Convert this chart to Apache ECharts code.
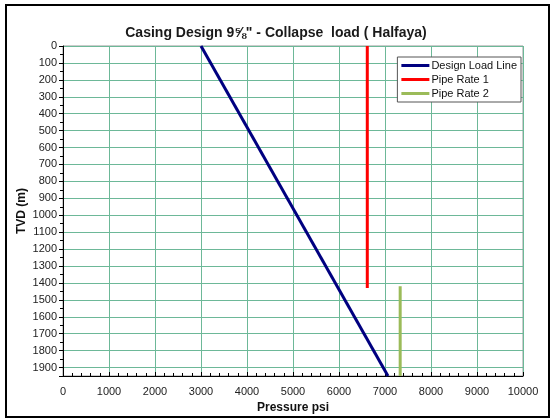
<!DOCTYPE html>
<html>
<head>
<meta charset="utf-8">
<script src="https://cdn.jsdelivr.net/npm/echarts@6/dist/echarts.min.js"></script>
<style>
html,body{margin:0;padding:0;background:#fff;}
#c{width:552px;height:420px;}
</style>
</head>
<body>
<div id="c"></div>
<script>
// Data
const designDepth = [0, 1950];
const designPressure = [3000, 7065];
const pipe1Depth = [0, 1430];
const pipe1Pressure = [6615, 6615];
const pipe2Depth = [1420, 1950];
const pipe2Pressure = [7330, 7330];
const seriesNames = ['Design Load Line', 'Pipe Rate 1', 'Pipe Rate 2'];
const titleText = 'Casing Design 9\u215D" - Collapse  load ( Halfaya)';
const xAxisTitle = 'Pressure psi';
const yAxisTitle = 'TVD (m)';

function pairs(xs, ys) { return xs.map((x, i) => [x, ys[i]]); }

const chart = echarts.init(document.getElementById('c'), null, {renderer: 'canvas'});
const font = 'Arial, "Liberation Sans", sans-serif';
chart.setOption({
  backgroundColor: '#fff',
  animation: false,
  title: {
    text: titleText,
    left: 271, top: 21, textAlign: 'center',
    textStyle: {fontFamily: font, fontSize: 14, fontWeight: 'bold', color: '#1a1a1a'}
  },
  graphic: [{
    type: 'rect', shape: {x: 6, y: 5, width: 543, height: 412},
    style: {fill: null, stroke: '#000', lineWidth: 2}, silent: true
  }, {
    type: 'text', x: 22, y: 211, rotation: Math.PI / 2, silent: true,
    style: {text: yAxisTitle, fontFamily: font, fontSize: 12, fontWeight: 'bold', fill: '#111',
      align: 'center', verticalAlign: 'middle'}
  }],
  legend: {
    orient: 'vertical', right: 31, top: 57,
    backgroundColor: '#fff', borderColor: '#555', borderWidth: 1,
    padding: [3, 4, 3, 4], itemGap: 3, itemWidth: 28, itemHeight: 11,
    icon: 'path://M0,0 L28,0 L28,3 L0,3 Z',
    textStyle: {fontFamily: font, fontSize: 11, color: '#111', padding: [0, 0, 0, -3]},
    data: seriesNames
  },
  grid: {left: 63, right: 29, top: 46, bottom: 44, show: true, borderColor: '#999', borderWidth: 1},
  xAxis: {
    type: 'value', min: 0, max: 10000, interval: 1000, position: 'bottom',
    name: xAxisTitle, nameLocation: 'middle', nameGap: 25,
    nameTextStyle: {fontFamily: font, fontSize: 12, fontWeight: 'bold', color: '#111'},
    axisLine: {show: true, onZero: false, lineStyle: {color: '#000', width: 1}},
    axisTick: {show: true, inside: true, length: 4, lineStyle: {color: '#000'}},
    minorTick: {show: true, splitNumber: 5, length: 3, lineStyle: {color: '#000'}},
    axisLabel: {fontFamily: font, fontSize: 11, color: '#222', margin: 10, formatter: v => String(v)},
    splitLine: {show: true, lineStyle: {color: '#6db898', width: 1}}
  },
  yAxis: {
    type: 'value', inverse: true, min: 0, max: 1950, interval: 100, position: 'left',
    axisLine: {show: true, onZero: false, lineStyle: {color: '#000', width: 1}},
    axisTick: {show: true, inside: false, length: 4, lineStyle: {color: '#000'}},
    minorTick: {show: true, splitNumber: 2, length: 3, lineStyle: {color: '#000'}},
    axisLabel: {fontFamily: font, fontSize: 11, color: '#222', margin: 6, showMaxLabel: false,
      formatter: v => (v % 100 === 0 ? String(v) : '')},
    splitLine: {show: true, lineStyle: {color: '#6db898', width: 1}}
  },
  series: [
    {name: seriesNames[0], type: 'line', data: pairs(designPressure, designDepth), symbol: 'none',
     lineStyle: {color: '#000080', width: 3}, itemStyle: {color: '#000080'}},
    {name: seriesNames[1], type: 'line', data: pairs(pipe1Pressure, pipe1Depth), symbol: 'none',
     lineStyle: {color: '#ff0000', width: 3}, itemStyle: {color: '#ff0000'}},
    {name: seriesNames[2], type: 'line', data: pairs(pipe2Pressure, pipe2Depth), symbol: 'none',
     lineStyle: {color: '#9bbb59', width: 3}, itemStyle: {color: '#9bbb59'}}
  ]
});
</script>
</body>
</html>
